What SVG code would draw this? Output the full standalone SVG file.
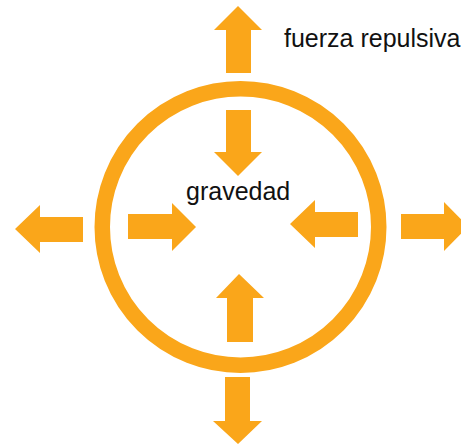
<svg xmlns="http://www.w3.org/2000/svg" width="461" height="444" viewBox="0 0 461 444">
<style>
.ar{fill:#FAA61A;stroke:none}
.ring{fill:none;stroke:#FAA61A;stroke-width:15.5}
.lbl{font-family:"Liberation Sans",Arial,sans-serif;font-size:25px;fill:#111}
</style>
<rect width="461" height="444" fill="#fff"/>
<g id="ring"><circle class="ring" cx="240.5" cy="227" r="138.25"/></g>
<g id="connectors">
<polygon id="out-top" class="ar" points="238,6 262,30 251,30 251,73 226,73 226,30 214,30"/>
<polygon id="out-left" class="ar" points="15,229 40,205 40,217 83,217 83,242 40,242 40,253"/>
<polygon id="out-right" class="ar" points="468,226.5 444,202 444,214 401,214 401,239 444,239 444,251"/>
<polygon id="out-bottom" class="ar" points="238,444 262,421 250,421 250,377 225,377 225,421 213,421"/>
<polygon id="in-top" class="ar" points="238,176 262,152 251,152 251,110 226,110 226,152 214,152"/>
<polygon id="in-left" class="ar" points="196,227 172,203 172,214 128,214 128,239 172,239 172,251"/>
<polygon id="in-right" class="ar" points="290,224 315,200 315,212 358,212 358,237 315,237 315,248"/>
<polygon id="in-bottom" class="ar" points="239,274 264,298 253,298 253,342 227,342 227,298 216,298"/>
</g>
<g id="label-gravedad"><text class="lbl" x="186" y="200">gravedad</text></g>
<g id="label-repulsiva"><text class="lbl" x="284" y="47">fuerza repulsiva</text></g>
</svg>
